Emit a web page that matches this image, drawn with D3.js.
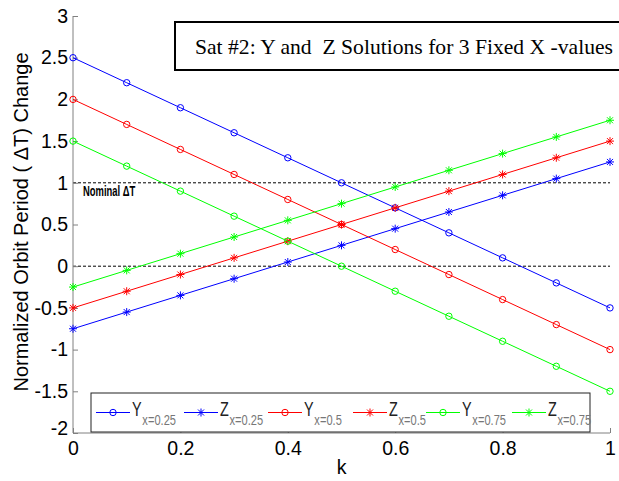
<!DOCTYPE html>
<html>
<head>
<meta charset="utf-8">
<script src="https://cdn.jsdelivr.net/npm/d3@7"></script>
<style>
  body { margin: 0; background: #fff; overflow: hidden; }
  svg { display: block; }
</style>
</head>
<body>
<div id="chart"></div>
<script>
// values
var kValues = [0, 0.1, 0.2, 0.3, 0.4, 0.5, 0.6, 0.7, 0.8, 0.9, 1];
var yX025 = [2.5, 2.2, 1.9, 1.6, 1.3, 1.0, 0.7, 0.4, 0.1, -0.2, -0.5];
var zX025 = [-0.75, -0.55, -0.35, -0.15, 0.05, 0.25, 0.45, 0.65, 0.85, 1.05, 1.25];
var yX05 = [2.0, 1.7, 1.4, 1.1, 0.8, 0.5, 0.2, -0.1, -0.4, -0.7, -1.0];
var zX05 = [-0.5, -0.3, -0.1, 0.1, 0.3, 0.5, 0.7, 0.9, 1.1, 1.3, 1.5];
var yX075 = [1.5, 1.2, 0.9, 0.6, 0.3, 0.0, -0.3, -0.6, -0.9, -1.2, -1.5];
var zX075 = [-0.25, -0.05, 0.15, 0.35, 0.55, 0.75, 0.95, 1.15, 1.35, 1.55, 1.75];

var xTicks = [0, 0.2, 0.4, 0.6, 0.8, 1];
var yTicks = [-2, -1.5, -1, -0.5, 0, 0.5, 1, 1.5, 2, 2.5, 3];
var refLines = [0, 1];

var series = [
  { name: "Y", sub: "x=0.25", values: yX025, color: "#0000ff", marker: "circle" },
  { name: "Z", sub: "x=0.25", values: zX025, color: "#0000ff", marker: "star" },
  { name: "Y", sub: "x=0.5", values: yX05, color: "#ff0000", marker: "circle" },
  { name: "Z", sub: "x=0.5", values: zX05, color: "#ff0000", marker: "star" },
  { name: "Y", sub: "x=0.75", values: yX075, color: "#00ff00", marker: "circle" },
  { name: "Z", sub: "x=0.75", values: zX075, color: "#00ff00", marker: "star" }
];

var W = 619, H = 481;
var svg = d3.select("#chart").append("svg")
  .attr("width", W)
  .attr("height", H);

var x = d3.scaleLinear().domain([0, 1]).range([73, 610]);
var y = d3.scaleLinear().domain([-2, 3]).range([433, 16]);

var axisColor = "#808080";
var tickFont = "'Liberation Sans', Arial, sans-serif";

// dashed reference lines
svg.selectAll(".ref")
  .data(refLines)
  .enter().append("line")
  .attr("class", "ref")
  .attr("x1", x(0)).attr("x2", x(1))
  .attr("y1", function (d) { return y(d); })
  .attr("y2", function (d) { return y(d); })
  .style("stroke", "#000")
  .style("stroke-width", 1)
  .style("stroke-dasharray", "3,2");

// narrow label, squeezed horizontally
svg.append("text")
  .attr("transform", "translate(83,196) scale(0.65,1)")
  .style("font-family", tickFont)
  .style("font-size", "14.5px")
  .style("font-weight", "bold")
  .style("fill", "#000")
  .text("Nominal ΔT");

// axes (ticks point inward like MATLAB)
var xAxis = d3.axisBottom(x).tickValues(xTicks).tickSize(-5).tickPadding(8)
  .tickFormat(function (d) { return d3.format("")(d); });
var yAxis = d3.axisLeft(y).tickValues(yTicks).tickSize(-5).tickPadding(5)
  .tickFormat(function (d) { return d3.format("")(d).replace("−", "-"); });

var gx = svg.append("g")
  .attr("transform", "translate(0," + y(-2) + ")")
  .call(xAxis);
var gy = svg.append("g")
  .attr("transform", "translate(" + x(0) + ",0)")
  .call(yAxis);

[gx, gy].forEach(function (g) {
  g.select(".domain").remove();
  g.selectAll(".tick line").style("stroke", axisColor);
  g.selectAll(".tick text")
    .style("font-family", tickFont)
    .style("font-size", "19.5px")
    .style("fill", "#000");
});
svg.append("line")
  .attr("x1", x(0)).attr("x2", x(1))
  .attr("y1", y(-2)).attr("y2", y(-2))
  .style("stroke", axisColor);
svg.append("line")
  .attr("x1", x(0)).attr("x2", x(0))
  .attr("y1", y(-2)).attr("y2", y(3))
  .style("stroke", axisColor);
gx.selectAll(".tick text").attr("dy", "0.71em");
gy.selectAll(".tick text").filter(function (d) { return d === -2; }).attr("dy", "0.1em");

// lines and markers
var line = d3.line()
  .x(function (d) { return x(d.k); })
  .y(function (d) { return y(d.v); });

function drawMarker(sel, type, color) {
  if (type === "circle") {
    sel.append("circle")
      .attr("r", 3.2)
      .style("fill", "none")
      .style("stroke", color)
      .style("stroke-width", 1);
  } else {
    sel.append("path")
      .attr("d", "M-4,0H4M0,-4V4M-3,-3L3,3M-3,3L3,-3")
      .style("stroke", color)
      .style("stroke-width", 1);
  }
}

series.forEach(function (s) {
  var pts = kValues.map(function (k, i) { return { k: k, v: s.values[i] }; });
  var g = svg.append("g");
  g.append("path")
    .attr("d", line(pts))
    .style("fill", "none")
    .style("stroke", s.color)
    .style("stroke-width", 1);
  g.selectAll(".m")
    .data(pts)
    .enter().append("g")
    .attr("transform", function (d) { return "translate(" + x(d.k) + "," + y(d.v) + ")"; })
    .each(function () { drawMarker(d3.select(this), s.marker, s.color); });
});

// axis labels
svg.append("text")
  .attr("transform", "translate(28,222) rotate(-90)")
  .attr("text-anchor", "middle")
  .style("font-family", tickFont)
  .style("font-size", "20px")
  .text("Normalized Orbit Period ( ΔT) Change");

svg.append("text")
  .attr("x", x(0.5))
  .attr("y", 474)
  .attr("text-anchor", "middle")
  .style("font-family", tickFont)
  .style("font-size", "19.5px")
  .text("k");

// title box (runs off the right edge)
svg.append("rect")
  .attr("x", 175).attr("y", 22)
  .attr("width", 520).attr("height", 48)
  .style("fill", "#fff")
  .style("stroke", "#000")
  .style("stroke-width", 2);
svg.append("text")
  .attr("x", 195)
  .attr("y", 54)
  .attr("textLength", 418)
  .attr("lengthAdjust", "spacingAndGlyphs")
  .style("font-family", "'Liberation Serif', 'Times New Roman', serif")
  .style("font-size", "21.5px")
  .attr("xml:space", "preserve")
  .style("white-space", "pre")
  .text("Sat #2: Y and  Z Solutions for 3 Fixed X -values");

// legend
var legX = [96, 184, 268, 353, 426, 512];
var legend = svg.append("g");
legend.append("rect")
  .attr("x", 91).attr("y", 393)
  .attr("width", 499).attr("height", 39)
  .style("fill", "#fff")
  .style("stroke", "#222")
  .style("stroke-width", 1);

series.forEach(function (s, i) {
  var lg = legend.append("g").attr("transform", "translate(" + legX[i] + ",0)");
  lg.append("line")
    .attr("x1", 0).attr("x2", 34)
    .attr("y1", 412.5).attr("y2", 412.5)
    .style("stroke", s.color);
  var m = lg.append("g").attr("transform", "translate(17,412.5)");
  drawMarker(m, s.marker, s.color);
  var t = lg.append("text")
    .attr("transform", "translate(36,416) scale(0.74,1)")
    .style("font-family", tickFont)
    .style("fill", "#222");
  t.append("tspan").style("font-size", "19.5px").text(s.name);
  t.append("tspan").attr("dx", 1).attr("dy", 9).style("font-size", "15px").style("fill", "#777").text(s.sub);
});
</script>
</body>
</html>
